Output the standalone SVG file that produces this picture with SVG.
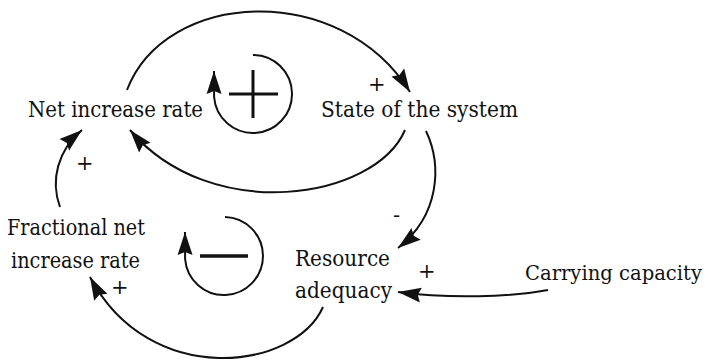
<svg xmlns="http://www.w3.org/2000/svg" width="707" height="360" viewBox="0 0 707 360">
<style>
  .lbl{font-family:"DejaVu Serif","Liberation Serif",serif;font-size:23px;fill:#111;}
  .pol{font-family:"DejaVu Serif","Liberation Serif",serif;font-size:21px;fill:#111;}
  .conn{fill:none;stroke:#111;stroke-width:2;marker-end:url(#ah);}
  .sign{stroke:#111;stroke-width:3;fill:none;}
</style>
<defs>
  <marker id="ah" viewBox="-24 -8 25 16" markerWidth="25" markerHeight="16" refX="0" refY="0" markerUnits="userSpaceOnUse" orient="auto">
    <path d="M0,0 L-23,-7.5 L-20,0 L-23,7.5 Z" fill="#111"/>
  </marker>
</defs>
<rect width="707" height="360" fill="#fff"/>

<g id="net-increase-rate"><text class="lbl" x="28" y="117" textLength="175" lengthAdjust="spacingAndGlyphs">Net increase rate</text></g>
<g id="state-of-the-system"><text class="lbl" x="321" y="117" textLength="197" lengthAdjust="spacingAndGlyphs">State of the system</text></g>
<g id="fractional-net-increase-rate">
  <text class="lbl" x="7" y="235" textLength="138" lengthAdjust="spacingAndGlyphs">Fractional net</text>
  <text class="lbl" x="11" y="268" textLength="129" lengthAdjust="spacingAndGlyphs">increase rate</text>
</g>
<g id="resource-adequacy">
  <text class="lbl" x="295" y="266" textLength="95" lengthAdjust="spacingAndGlyphs">Resource</text>
  <text class="lbl" x="295" y="298" textLength="97" lengthAdjust="spacingAndGlyphs">adequacy</text>
</g>
<g id="carrying-capacity"><text class="lbl" x="525" y="280" style="font-size:20px" textLength="177" lengthAdjust="spacingAndGlyphs">Carrying capacity</text></g>

<g id="loop-positive">
  <path class="conn" d="M253,55 A39,39 0 1 1 214.1,97 L214,71"/>
  <line class="sign" x1="229" y1="94" x2="278" y2="94"/>
  <line class="sign" x1="253" y1="70" x2="253" y2="118"/>
</g>
<g id="loop-negative">
  <path class="conn" d="M225,217 A39,39 0 1 1 185.1,259 L185,232"/>
  <line class="sign" x1="200" y1="256" x2="248" y2="256" style="stroke-width:3.5"/>
</g>

<g id="connectors">
  <path class="conn" d="M127,90 C165,-10 340,-20 410,92"/>
  <path class="conn" d="M405,130 C375,200 210,225 130,130"/>
  <path class="conn" d="M426,131 C442,165 440,215 398,248"/>
  <path class="conn" d="M548,290 C510,297 450,299 398,292"/>
  <path class="conn" d="M323,307 C295,370 150,390 90,277"/>
  <path class="conn" d="M60,207 C50,180 58,150 82,130"/>
  <text class="pol" x="368" y="91">+</text>
  <text class="pol" x="393" y="222">-</text>
  <text class="pol" x="418" y="278">+</text>
  <text class="pol" x="111" y="294">+</text>
  <text class="pol" x="76" y="170">+</text>
</g>
</svg>
